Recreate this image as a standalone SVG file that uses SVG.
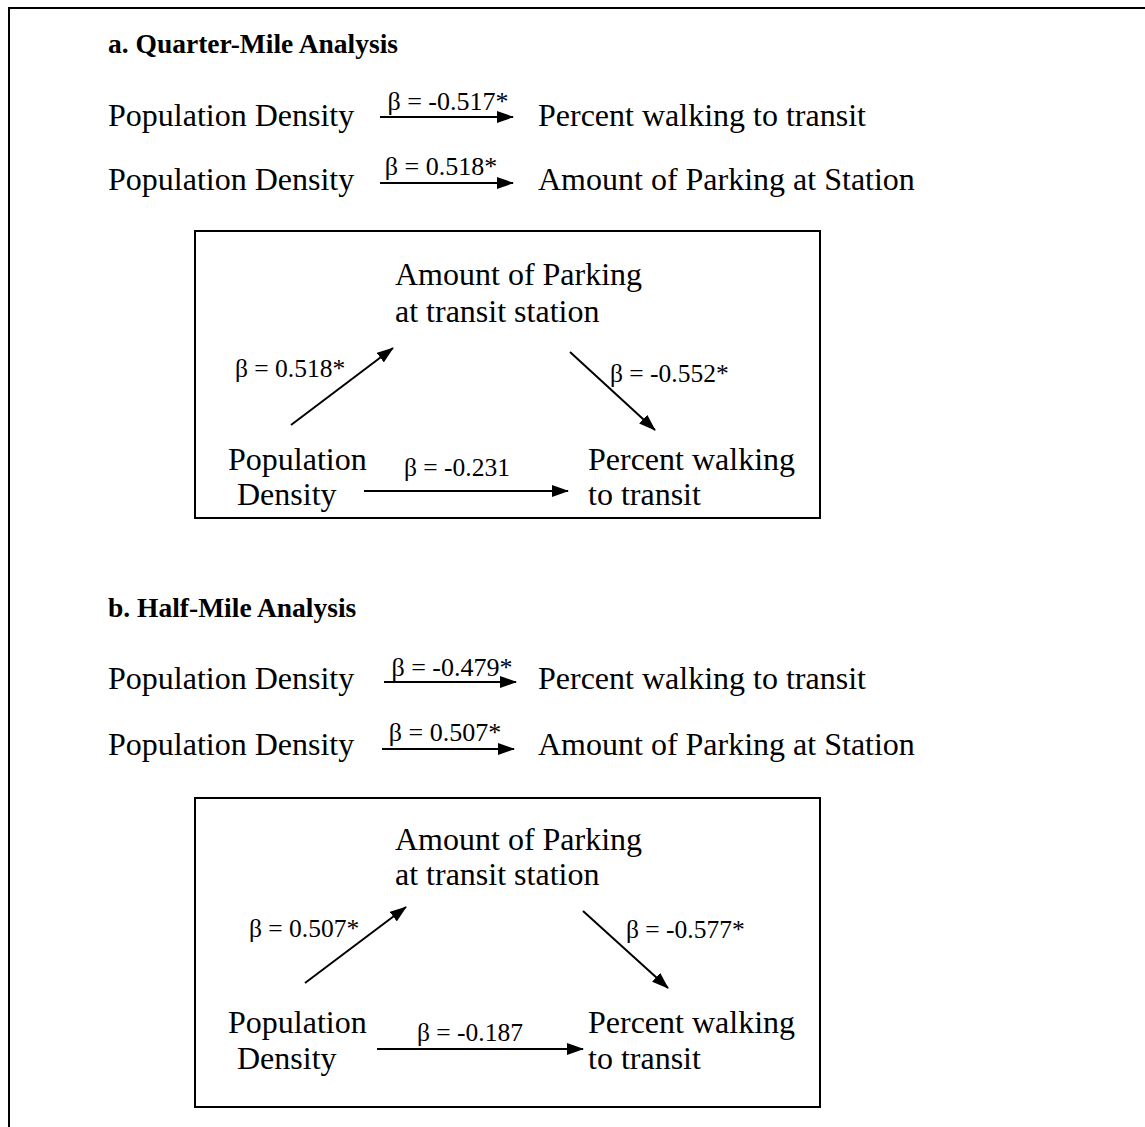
<svg xmlns="http://www.w3.org/2000/svg" width="1145" height="1127" viewBox="0 0 1145 1127">
<style>
text{font-family:"Liberation Serif","Times New Roman",serif;fill:#000}
.t{font-size:27.5px;font-weight:bold}
.b{font-size:32px}
.s{font-size:26px}
.l{font-size:25.5px}
.c{stroke:#000;stroke-width:2;fill:none}
.box{fill:none;stroke:#000;stroke-width:2}
</style>
<defs>
<marker id="ah" viewBox="0 0 17 12" refX="16" refY="6" markerWidth="17" markerHeight="12" orient="auto" markerUnits="userSpaceOnUse"><path d="M0,0 L17,6 L0,12 z" fill="#000"/></marker>
</defs>
<rect width="1145" height="1127" fill="#fff"/>
<path d="M9,1127 V8 H1145" fill="none" stroke="#000" stroke-width="2"/>

<g id="sectionA">
<text class="t" x="108" y="53">a. Quarter-Mile Analysis</text>
<g id="a-row1">
<text class="b" x="108" y="126">Population Density</text>
<text class="s" x="448" y="110" text-anchor="middle">β = -0.517*</text>
<text class="b" x="538" y="126">Percent walking to transit</text>
</g>
<g id="a-row2">
<text class="b" x="108" y="190">Population Density</text>
<text class="s" x="441" y="175" text-anchor="middle">β = 0.518*</text>
<text class="b" x="538" y="190">Amount of Parking at Station</text>
</g>
<rect id="a-box" class="box" x="195" y="231" width="625" height="287"/>
<g id="a-parking"><text class="b" x="395" y="285">Amount of Parking</text><text class="b" x="395" y="322">at transit station</text></g>
<g id="a-pop"><text class="b" x="228" y="470">Population</text><text class="b" x="237" y="505">Density</text></g>
<g id="a-walk"><text class="b" x="588" y="470">Percent walking</text><text class="b" x="588" y="505">to transit</text></g>
<g id="a-labels">
<text class="l" x="235" y="377">β = 0.518*</text>
<text class="l" x="610" y="382">β = -0.552*</text>
<text class="l" x="404" y="476">β = -0.231</text>
</g>
</g>

<g id="sectionB">
<text class="t" x="108" y="617">b. Half-Mile Analysis</text>
<g id="b-row1">
<text class="b" x="108" y="689">Population Density</text>
<text class="s" x="452" y="676" text-anchor="middle">β = -0.479*</text>
<text class="b" x="538" y="689">Percent walking to transit</text>
</g>
<g id="b-row2">
<text class="b" x="108" y="755">Population Density</text>
<text class="s" x="445" y="741" text-anchor="middle">β = 0.507*</text>
<text class="b" x="538" y="755">Amount of Parking at Station</text>
</g>
<rect id="b-box" class="box" x="195" y="798" width="625" height="309"/>
<g id="b-parking"><text class="b" x="395" y="850">Amount of Parking</text><text class="b" x="395" y="885">at transit station</text></g>
<g id="b-pop"><text class="b" x="228" y="1033">Population</text><text class="b" x="237" y="1069">Density</text></g>
<g id="b-walk"><text class="b" x="588" y="1033">Percent walking</text><text class="b" x="588" y="1069">to transit</text></g>
<g id="b-labels">
<text class="l" x="249" y="937">β = 0.507*</text>
<text class="l" x="626" y="938">β = -0.577*</text>
<text class="l" x="417" y="1041">β = -0.187</text>
</g>
</g>

<g id="connectors" class="c">
<line x1="380" y1="117" x2="513" y2="117" marker-end="url(#ah)"/>
<line x1="380" y1="183" x2="513" y2="183" marker-end="url(#ah)"/>
<line x1="291" y1="425" x2="393" y2="348" marker-end="url(#ah)"/>
<line x1="570" y1="352" x2="655" y2="430" marker-end="url(#ah)"/>
<line x1="364" y1="491" x2="568" y2="491" marker-end="url(#ah)"/>
<line x1="384" y1="682" x2="516" y2="682" marker-end="url(#ah)"/>
<line x1="382" y1="749" x2="514" y2="749" marker-end="url(#ah)"/>
<line x1="305" y1="983" x2="406" y2="907" marker-end="url(#ah)"/>
<line x1="583" y1="911" x2="668" y2="988" marker-end="url(#ah)"/>
<line x1="377" y1="1049" x2="583" y2="1049" marker-end="url(#ah)"/>
</g>
</svg>
